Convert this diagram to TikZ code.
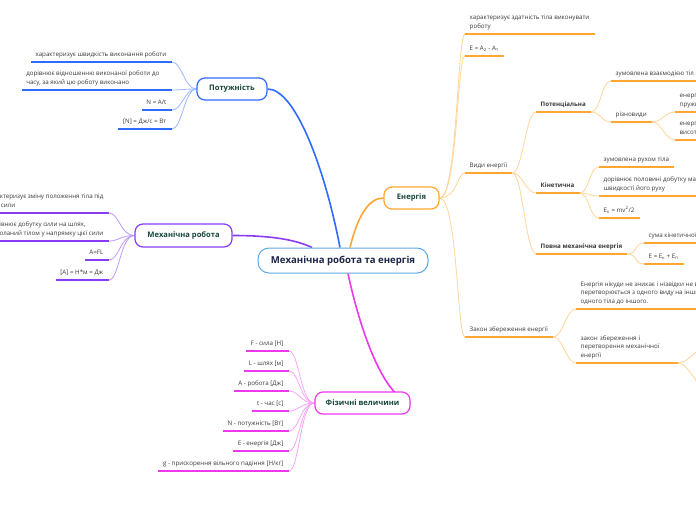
\documentclass[tikz,border=0pt]{standalone}
\usepackage{fontspec}
\setmainfont{Open Sans}
\usetikzlibrary{calc,backgrounds}
\definecolor{cBlue}{HTML}{2F6BFF}
\definecolor{cBlueL}{HTML}{9DB8FF}
\definecolor{cPurp}{HTML}{8A3CF5}
\definecolor{cPurpL}{HTML}{BE9BFA}
\definecolor{cMag}{HTML}{EE38EE}
\definecolor{cMagL}{HTML}{F7A6F7}
\definecolor{cOr}{HTML}{FFA630}
\definecolor{cOrL}{HTML}{FFD59A}
\definecolor{cCen}{HTML}{5FA8E4}
\definecolor{topictxt}{HTML}{16463A}
\definecolor{centtxt}{HTML}{1B2547}
\definecolor{leaftxt}{HTML}{3A3A3A}
\tikzset{
  leaf/.style={inner sep=0pt, font=\fontsize{6.2}{8.5}\selectfont, text=leaftxt, align=left, execute at end node=\strut},
  lbold/.style={font=\fontsize{6.2}{8.5}\selectfont\bfseries},
  topic/.style={draw, rounded corners=8pt, fill=white, line width=1.2pt, font=\fontsize{7.6}{9}\selectfont\bfseries, text=topictxt, inner sep=0pt},
  central/.style={draw=cCen, rounded corners=11pt, fill=white, line width=1pt, font=\fontsize{9.6}{11}\selectfont\bfseries, text=centtxt, inner sep=0pt, minimum width=170pt, minimum height=25pt},
  ulB/.style={cBlue, line width=1.8pt},
  ulP/.style={cPurp, line width=1.8pt},
  ulM/.style={cMag, line width=1.8pt},
  ulO/.style={cOr, line width=1.8pt},
  subB/.style={cBlueL, line width=0.8pt},
  subP/.style={cPurpL, line width=0.8pt},
  subM/.style={cMagL, line width=0.8pt},
  subO/.style={cOrL, line width=0.8pt},
  mainB/.style={cBlue, line width=1.6pt},
  mainP/.style={cPurp, line width=1.6pt},
  mainM/.style={cMag, line width=1.6pt},
  mainO/.style={cOr, line width=1.6pt},
}
\newcommand\leafR[6]{%
  \coordinate (#1-in) at (#2,#3);
  \node[leaf,#5,anchor=south west] (#1) at (#2+4.5,#3-3.1) {#6};
  \draw[#4] (#1-in) -- ($(#1.east|-#1-in)+(5,0)$) coordinate (#1-out);
}
\newcommand\leafL[6]{%
  \coordinate (#1-in) at (#2,#3);
  \node[leaf,#5,anchor=south east] (#1) at (#2-5.5,#3-3.1) {#6};
  \draw[#4] (#1-in) -- ($(#1.west|-#1-in)+(-4.5,0)$) coordinate (#1-out);
}
\begin{document}
\begin{tikzpicture}[x=1pt,y=-1pt]
\useasboundingbox (0,0) rectangle (696,520);
% topics
\node[central] (cen) at (343,260.5) {Механічна робота та енергія};
\node[topic, draw=cBlue, minimum width=70pt, minimum height=22pt] (pot) at (232,89) {Потужність};
\node[topic, draw=cPurp, minimum width=97pt, minimum height=23pt] (mech) at (183.5,235.5) {Механічна робота};
\node[topic, draw=cMag, minimum width=95pt, minimum height=22pt] (fiz) at (362.5,403) {Фізичні величини};
\node[topic, draw=cOr, minimum width=55pt, minimum height=22pt] (en) at (411.5,198) {Енергія};

% Потужність
\leafL{p1}{172}{62}{ulB}{}{характеризує швидкість виконання роботи}
\leafL{p2}{172}{90}{ulB}{xshift=-7}{дорівнює відношенню виконаної роботи до\\часу, за який цю роботу виконано}
\leafL{p3}{172}{110}{ulB}{}{N = A/t}
\leafL{p4}{172}{129}{ulB}{}{[N] = Дж/с = Вт}

% Механічна робота
\leafL{m1}{109}{213}{ulP}{}{характеризує зміну положення тіла під\\дією сили}
\leafL{m2}{109}{241}{ulP}{}{дорівнює добутку сили на шлях,\\подоланий тілом у напрямку цієї сили}
\leafL{m3}{109}{260}{ulP}{}{A=FL}
\leafL{m4}{109}{280}{ulP}{}{[A] = Н*м = Дж}

% Фізичні величини
\leafL{f1}{289}{351}{ulM}{}{F - сила [Н]}
\leafL{f2}{289}{371}{ulM}{}{L - шлях [м]}
\leafL{f3}{289}{391}{ulM}{}{A - робота [Дж]}
\leafL{f4}{289}{411}{ulM}{}{t - час [с]}
\leafL{f5}{289}{431}{ulM}{}{N - потужність [Вт]}
\leafL{f6}{289}{451}{ulM}{}{E - енергія [Дж]}
\leafL{f7}{289}{471}{ulM}{}{g - прискорення вільного падіння [Н/кг]}

% Енергія
\leafR{e1}{465}{34}{ulO}{}{характеризує здатність тіла виконувати\\роботу}
\leafR{e2}{465}{56}{ulO}{}{E = A\textsubscript{2} - A\textsubscript{1}}
\leafR{e3}{465}{173}{ulO}{}{Види енергії}
\leafR{e4}{465}{337}{ulO}{}{Закон збереження енергії}
\leafR{v1}{536}{112}{ulO}{lbold}{Потенціальна}
\leafR{v2}{536}{193}{ulO}{lbold}{Кінетична}
\leafR{v3}{536}{254}{ulO}{lbold}{Повна механічна енергія}
\leafR{pa}{611}{81}{ulO}{}{зумовлена взаємодією тіл або частин тіла}
\leafR{pb}{611}{122}{ulO}{}{різновиди}
\leafR{ra}{675}{112}{ulO}{}{енергія взаємодії частин\\пружно деформованого тіла}
\leafR{rb}{675}{140}{ulO}{}{енергія тіла, піднятого на\\висоту над Землею}
\leafR{ka}{599}{167}{ulO}{}{зумовлена рухом тіла}
\leafR{kb}{599}{196}{ulO}{}{дорівнює половині добутку маси тіла на квадрат\\швидкості його руху}
\leafR{kc}{599}{218}{ulO}{}{E\textsubscript{к} = mv\textsuperscript{2}/2}
\leafR{ta}{644}{243}{ulO}{}{сума кінетичної і потенціальної енергії тіла}
\leafR{tb}{644}{264}{ulO}{}{E = E\textsubscript{к} + E\textsubscript{п}}
\leafR{la}{576}{309}{ulO}{}{Енергія нікуди не зникає і нізвідки не виникає, вона лише\\перетворюється з одного виду на інший або передається від\\одного тіла до іншого.}
\leafR{lb}{576}{363}{ulO}{text width=92pt}{закон збереження і\\перетворення механічної\\енергії}
\coordinate (lbx1) at (712,343);
\coordinate (lbx2) at (712,395);

\begin{scope}[on background layer]
\fill[white] (0,0) rectangle (696,520);
% main connectors
\draw[mainB] (pot.east) .. controls +(28,0) and +(-15,-78) .. ([xshift=-3]cen.north);
\draw[mainO] ([xshift=7]cen.north) .. controls +(8,-33) and +(-14,0) .. (en.west);
\draw[mainP] (mech.east) .. controls +(38,0) and +(-17,-8) .. ([xshift=-31]cen.north);
\draw[mainM] ([xshift=5]cen.south) .. controls +(10,47) and +(-30,-8) .. (fiz.east);
% fans
\foreach \n in {p1,p2,p3,p4}
  \draw[subB] (pot.west) .. controls +(-12,0) and +(10,0) .. (\n-in);
\foreach \n in {m1,m2,m3,m4}
  \draw[subP] (mech.west) .. controls +(-14,0) and +(10,0) .. (\n-in);
\foreach \n in {f1,f2,f3,f4,f5,f6,f7}
  \draw[subM] (fiz.west) .. controls +(-14,0) and +(10,0) .. (\n-in);
\foreach \n in {e1,e2,e3,e4}
  \draw[subO] (en.east) .. controls +(18,0) and +(-8,0) .. (\n-in);
\foreach \n in {v1,v2,v3}
  \draw[subO] (e3-out) .. controls +(10,0) and +(-10,0) .. (\n-in);
\foreach \n in {pa,pb}
  \draw[subO] (v1-out) .. controls +(10,0) and +(-10,0) .. (\n-in);
\foreach \n in {ra,rb}
  \draw[subO] (pb-out) .. controls +(10,0) and +(-10,0) .. (\n-in);
\foreach \n in {ka,kb,kc}
  \draw[subO] (v2-out) .. controls +(10,0) and +(-10,0) .. (\n-in);
\foreach \n in {ta,tb}
  \draw[subO] (v3-out) .. controls +(10,0) and +(-10,0) .. (\n-in);
\foreach \n in {la,lb}
  \draw[subO] (e4-out) .. controls +(10,0) and +(-10,0) .. (\n-in);
\foreach \n in {lbx1,lbx2}
  \draw[subO] (lb-out) .. controls +(12,0) and +(-12,0) .. (\n);
\end{scope}
\end{tikzpicture}
\end{document}
